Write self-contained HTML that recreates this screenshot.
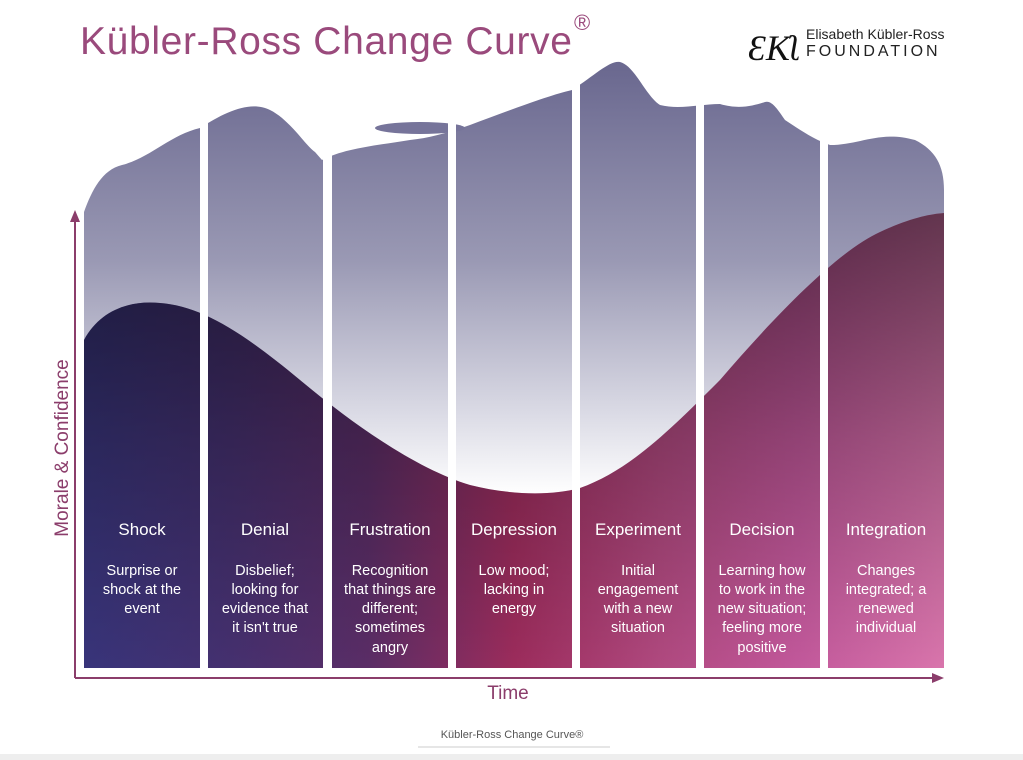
<!DOCTYPE html>
<html><head><meta charset="utf-8"><style>
html,body{margin:0;padding:0;background:#fff;}
body{width:1023px;height:760px;overflow:hidden;position:relative;font-family:"Liberation Sans",sans-serif;}
</style></head><body>
<svg width="1023" height="760" viewBox="0 0 1023 760" xmlns="http://www.w3.org/2000/svg" style="position:absolute;left:0;top:0">
<defs>
<linearGradient id="sky" gradientUnits="userSpaceOnUse" x1="0" y1="70" x2="0" y2="495">
<stop offset="0" stop-color="#6b6990"/><stop offset="0.45" stop-color="#9a99b4"/><stop offset="0.8" stop-color="#d9d9e4"/><stop offset="1" stop-color="#ffffff"/></linearGradient>
<linearGradient id="hor" gradientUnits="userSpaceOnUse" x1="84" y1="0" x2="944" y2="0">
<stop offset="0" stop-color="#38347a"/><stop offset="0.17" stop-color="#45306f"/><stop offset="0.33" stop-color="#5a2d66"/><stop offset="0.5" stop-color="#9c2c5c"/><stop offset="0.67" stop-color="#b0497f"/><stop offset="0.83" stop-color="#c2589b"/><stop offset="1" stop-color="#d975ac"/></linearGradient>
<linearGradient id="shade" gradientUnits="userSpaceOnUse" x1="0" y1="210" x2="0" y2="668">
<stop offset="0" stop-color="#000" stop-opacity="0.55"/><stop offset="0.5" stop-color="#000" stop-opacity="0.25"/><stop offset="1" stop-color="#000" stop-opacity="0"/></linearGradient>
<clipPath id="cols">
<rect x="84" y="0" width="116" height="668"/><rect x="208" y="0" width="115" height="668"/><rect x="332" y="0" width="116" height="668"/><rect x="456" y="0" width="116" height="668"/><rect x="580" y="0" width="116" height="668"/><rect x="704" y="0" width="116" height="668"/><rect x="828" y="0" width="116" height="668"/>
</clipPath>
</defs>
<g clip-path="url(#cols)">
<path fill="url(#sky)" d="M84 212 C92 190 102 170 122 165 C150 158 170 135 200 128 C225 112 250 100 270 110 C290 120 305 145 315 152 L322 160 C345 148 380 145 410 140 C430 138 450 132 470 125 C510 110 550 95 572 90 C595 75 610 60 620 62 C635 66 645 95 660 105 C680 110 700 104 720 104 C740 110 755 105 765 102 C772 100 778 110 785 120 C800 130 815 140 830 145 C860 145 880 130 915 140 C935 150 944 165 944 190 L944 668 L84 668 Z"/>
<ellipse cx="420" cy="128" rx="45" ry="6" fill="#76749a"/>
<path fill="url(#hor)" d="M84 340 C100 310 130 300 160 303 C200 306 240 330 300 380 C360 430 420 470 470 485 C510 495 550 496 580 488 C630 470 670 430 720 380 C780 310 840 250 880 232 C910 218 930 214 944 213 L944 668 L84 668 Z"/>
<path fill="url(#shade)" d="M84 340 C100 310 130 300 160 303 C200 306 240 330 300 380 C360 430 420 470 470 485 C510 495 550 496 580 488 C630 470 670 430 720 380 C780 310 840 250 880 232 C910 218 930 214 944 213 L944 668 L84 668 Z"/>
</g>
<g fill="#fff" text-anchor="middle" font-size="17" font-family="'Liberation Sans',sans-serif">
<text x="142" y="535">Shock</text><text x="265" y="535">Denial</text><text x="390" y="535">Frustration</text><text x="514" y="535">Depression</text><text x="638" y="535">Experiment</text><text x="762" y="535">Decision</text><text x="886" y="535">Integration</text>
</g>
<g fill="#fff" text-anchor="middle" font-size="14.5" font-family="'Liberation Sans',sans-serif">
<text x="142" y="575">Surprise or</text><text x="142" y="594">shock at the</text><text x="142" y="613">event</text>
<text x="265" y="575">Disbelief;</text><text x="265" y="594">looking for</text><text x="265" y="613">evidence that</text><text x="265" y="632">it isn't true</text>
<text x="390" y="575">Recognition</text><text x="390" y="594">that things are</text><text x="390" y="613">different;</text><text x="390" y="632">sometimes</text><text x="390" y="652">angry</text>
<text x="514" y="575">Low mood;</text><text x="514" y="594">lacking in</text><text x="514" y="613">energy</text>
<text x="638" y="575">Initial</text><text x="638" y="594">engagement</text><text x="638" y="613">with a new</text><text x="638" y="632">situation</text>
<text x="762" y="575">Learning how</text><text x="762" y="594">to  work in the</text><text x="762" y="613">new situation;</text><text x="762" y="632">feeling more</text><text x="762" y="652">positive</text>
<text x="886" y="575">Changes</text><text x="886" y="594">integrated; a</text><text x="886" y="613">renewed</text><text x="886" y="632">individual</text>
</g>
<g stroke="#8b3d6b" stroke-width="2" fill="none">
<line x1="75" y1="678" x2="75" y2="218"/><line x1="75" y1="678" x2="936" y2="678"/>
</g>
<path d="M75 210 L70 222 L80 222 Z" fill="#8b3d6b"/>
<path d="M944 678 L932 673 L932 683 Z" fill="#8b3d6b"/>
<text x="0" y="0" transform="translate(68 448) rotate(-90)" text-anchor="middle" font-size="19" fill="#8b3d6b">Morale &amp; Confidence</text>
<text x="508" y="699" text-anchor="middle" font-size="19" fill="#8b3d6b">Time</text>
<text x="80" y="54" font-size="39" fill="#9a4a7c" textLength="492" lengthAdjust="spacing">Kübler-Ross Change Curve</text>
<text x="574" y="30" font-size="22" fill="#9a4a7c">®</text>
<text x="748" y="60" font-size="36" fill="#111" font-family="'Liberation Serif',serif" font-style="italic">ƐKʅ</text>
<text x="806" y="39" font-size="14" fill="#222">Elisabeth Kübler-Ross</text>
<text x="806" y="56" font-size="16" fill="#222" letter-spacing="3">FOUNDATION</text>
<text x="512" y="738" text-anchor="middle" font-size="11" fill="#555">Kübler-Ross Change Curve®</text>
<line x1="418" y1="747" x2="610" y2="747" stroke="#ccc" stroke-width="1"/>
<rect x="0" y="754" width="1023" height="6" fill="#eee"/>
</svg>
</body></html>
